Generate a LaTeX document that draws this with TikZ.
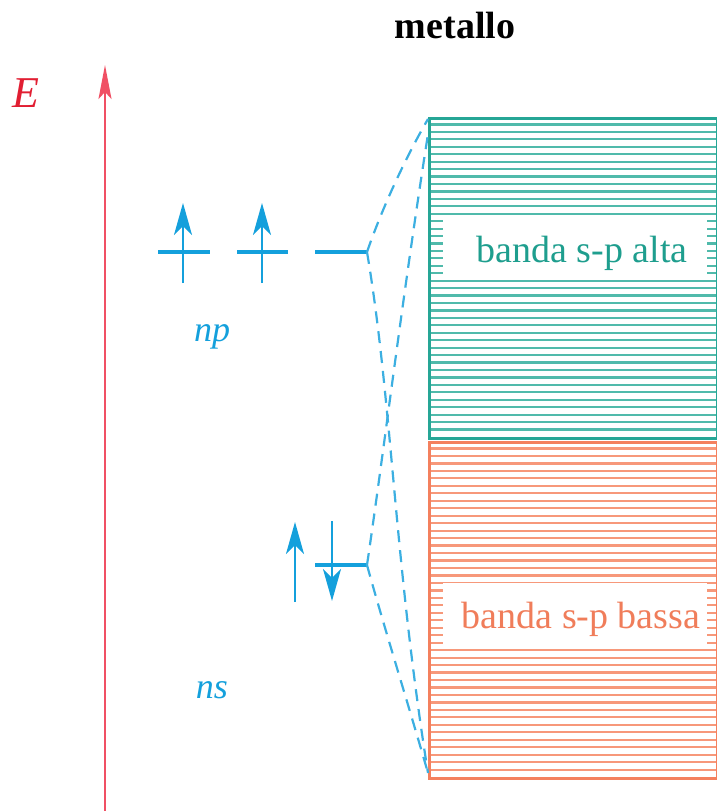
\documentclass[tikz,border=0pt]{standalone}
\usepackage{fontspec}
\setmainfont{Liberation Serif}
\usetikzlibrary{arrows.meta}
\definecolor{tealband}{RGB}{38,166,150}
\definecolor{tealline}{RGB}{80,186,171}
\definecolor{tealtext}{RGB}{30,158,142}
\definecolor{orangeband}{RGB}{244,128,94}
\definecolor{orangeline}{RGB}{247,152,122}
\definecolor{orangetext}{RGB}{240,125,90}
\definecolor{levelblue}{RGB}{20,160,220}
\definecolor{dashblue}{RGB}{60,175,225}
\definecolor{axisred}{RGB}{240,80,100}
\definecolor{labelred}{RGB}{225,30,50}
\tikzset{
  level/.style={draw=levelblue, line width=4pt},
  spin/.style={draw=levelblue, line width=2pt, -{Stealth[length=32pt,width=18pt,inset=9pt]}},
  axisline/.style={draw=axisred, line width=2pt, -{Stealth[length=34pt,width=13pt,inset=7pt]}},
  conn/.style={draw=dashblue, line width=2.2pt, dash pattern=on 12pt off 8pt},
  bandA/.style={draw=tealband, line width=2.5pt, minimum width=288pt, minimum height=320pt, anchor=north west, inner sep=0pt},
  bandB/.style={draw=orangeband, line width=2.5pt, minimum width=288pt, minimum height=336pt, anchor=north west, inner sep=0pt},
  bigtext/.style={font=\fontsize{38}{40}\selectfont, anchor=base},
}
\begin{document}
\begin{tikzpicture}[x=1pt,y=-1pt]
\useasboundingbox (0,0) rectangle (717,811);

% title and axis
\node[font=\fontsize{38}{40}\selectfont\bfseries, anchor=base] (title) at (455,38) {metallo};
\node[font=\fontsize{44}{44}\selectfont\itshape, text=labelred, anchor=base] (E) at (26,107) {E};
\coordinate (axb) at (105,811);
\coordinate (axt) at (105,65);
\draw[axisline] (axb) -- (axt);

% bands
\foreach \k in {1,...,42} {
  \pgfmathsetmacro{\yy}{117+\k*7.44}
  \draw[tealline, line width=2.2pt] (428,\yy) -- (716,\yy);
}
\foreach \k in {1,...,44} {
  \pgfmathsetmacro{\yy}{441+\k*7.47}
  \draw[orangeline, line width=2.2pt] (428,\yy) -- (716,\yy);
}
\node[bandA] (alta) at (428,117) {};
\node[bandB] (bassa) at (428,441) {};
\fill[white] (443,220) rectangle (707,278);
\fill[white] (443,583) rectangle (707,645);
\node[bigtext, text=tealtext] (altatxt) at (582,262) {banda s-p alta};
\node[bigtext, text=orangetext] (bassatxt) at (581,628) {banda s-p bassa};

% np levels
\coordinate (p1a) at (158,252); \coordinate (p1b) at (210,252);
\coordinate (p2a) at (237,252); \coordinate (p2b) at (288,252);
\coordinate (p3a) at (315,252); \coordinate (p3b) at (367,252);
\draw[level] (p1a) -- (p1b);
\draw[level] (p2a) -- (p2b);
\draw[level] (p3a) -- (p3b);
\coordinate (u1b) at (183,283); \coordinate (u1t) at (183,203);
\coordinate (u2b) at (262,283); \coordinate (u2t) at (262,203);
\draw[spin] (u1b) -- (u1t);
\draw[spin] (u2b) -- (u2t);
\node[font=\fontsize{36}{36}\selectfont\itshape, text=levelblue, anchor=base] (np) at (212,341) {np};

% ns level
\coordinate (sa) at (315,565); \coordinate (sb) at (367,565);
\draw[level] (sa) -- (sb);
\coordinate (u3b) at (295,602); \coordinate (u3t) at (295,522);
\coordinate (d3t) at (332,521); \coordinate (d3b) at (332,601);
\draw[spin] (u3b) -- (u3t);
\draw[spin] (d3t) -- (d3b);
\node[font=\fontsize{36}{36}\selectfont\itshape, text=levelblue, anchor=base] (ns) at (212,698) {ns};

% connectors
\coordinate (topc) at (428,119);
\coordinate (topc2) at (428,134);
\coordinate (botc) at (428,773);
\draw[conn] (p3b) .. controls (385,200) and (410,150) .. (topc);
\draw[conn] (p3b) .. controls (392,400) and (394,560) .. (botc);
\draw[conn] (sb) .. controls (384,450) and (402,300) .. (topc2);
\draw[conn] (sb) .. controls (382,620) and (410,710) .. (botc);
\end{tikzpicture}
\end{document}
